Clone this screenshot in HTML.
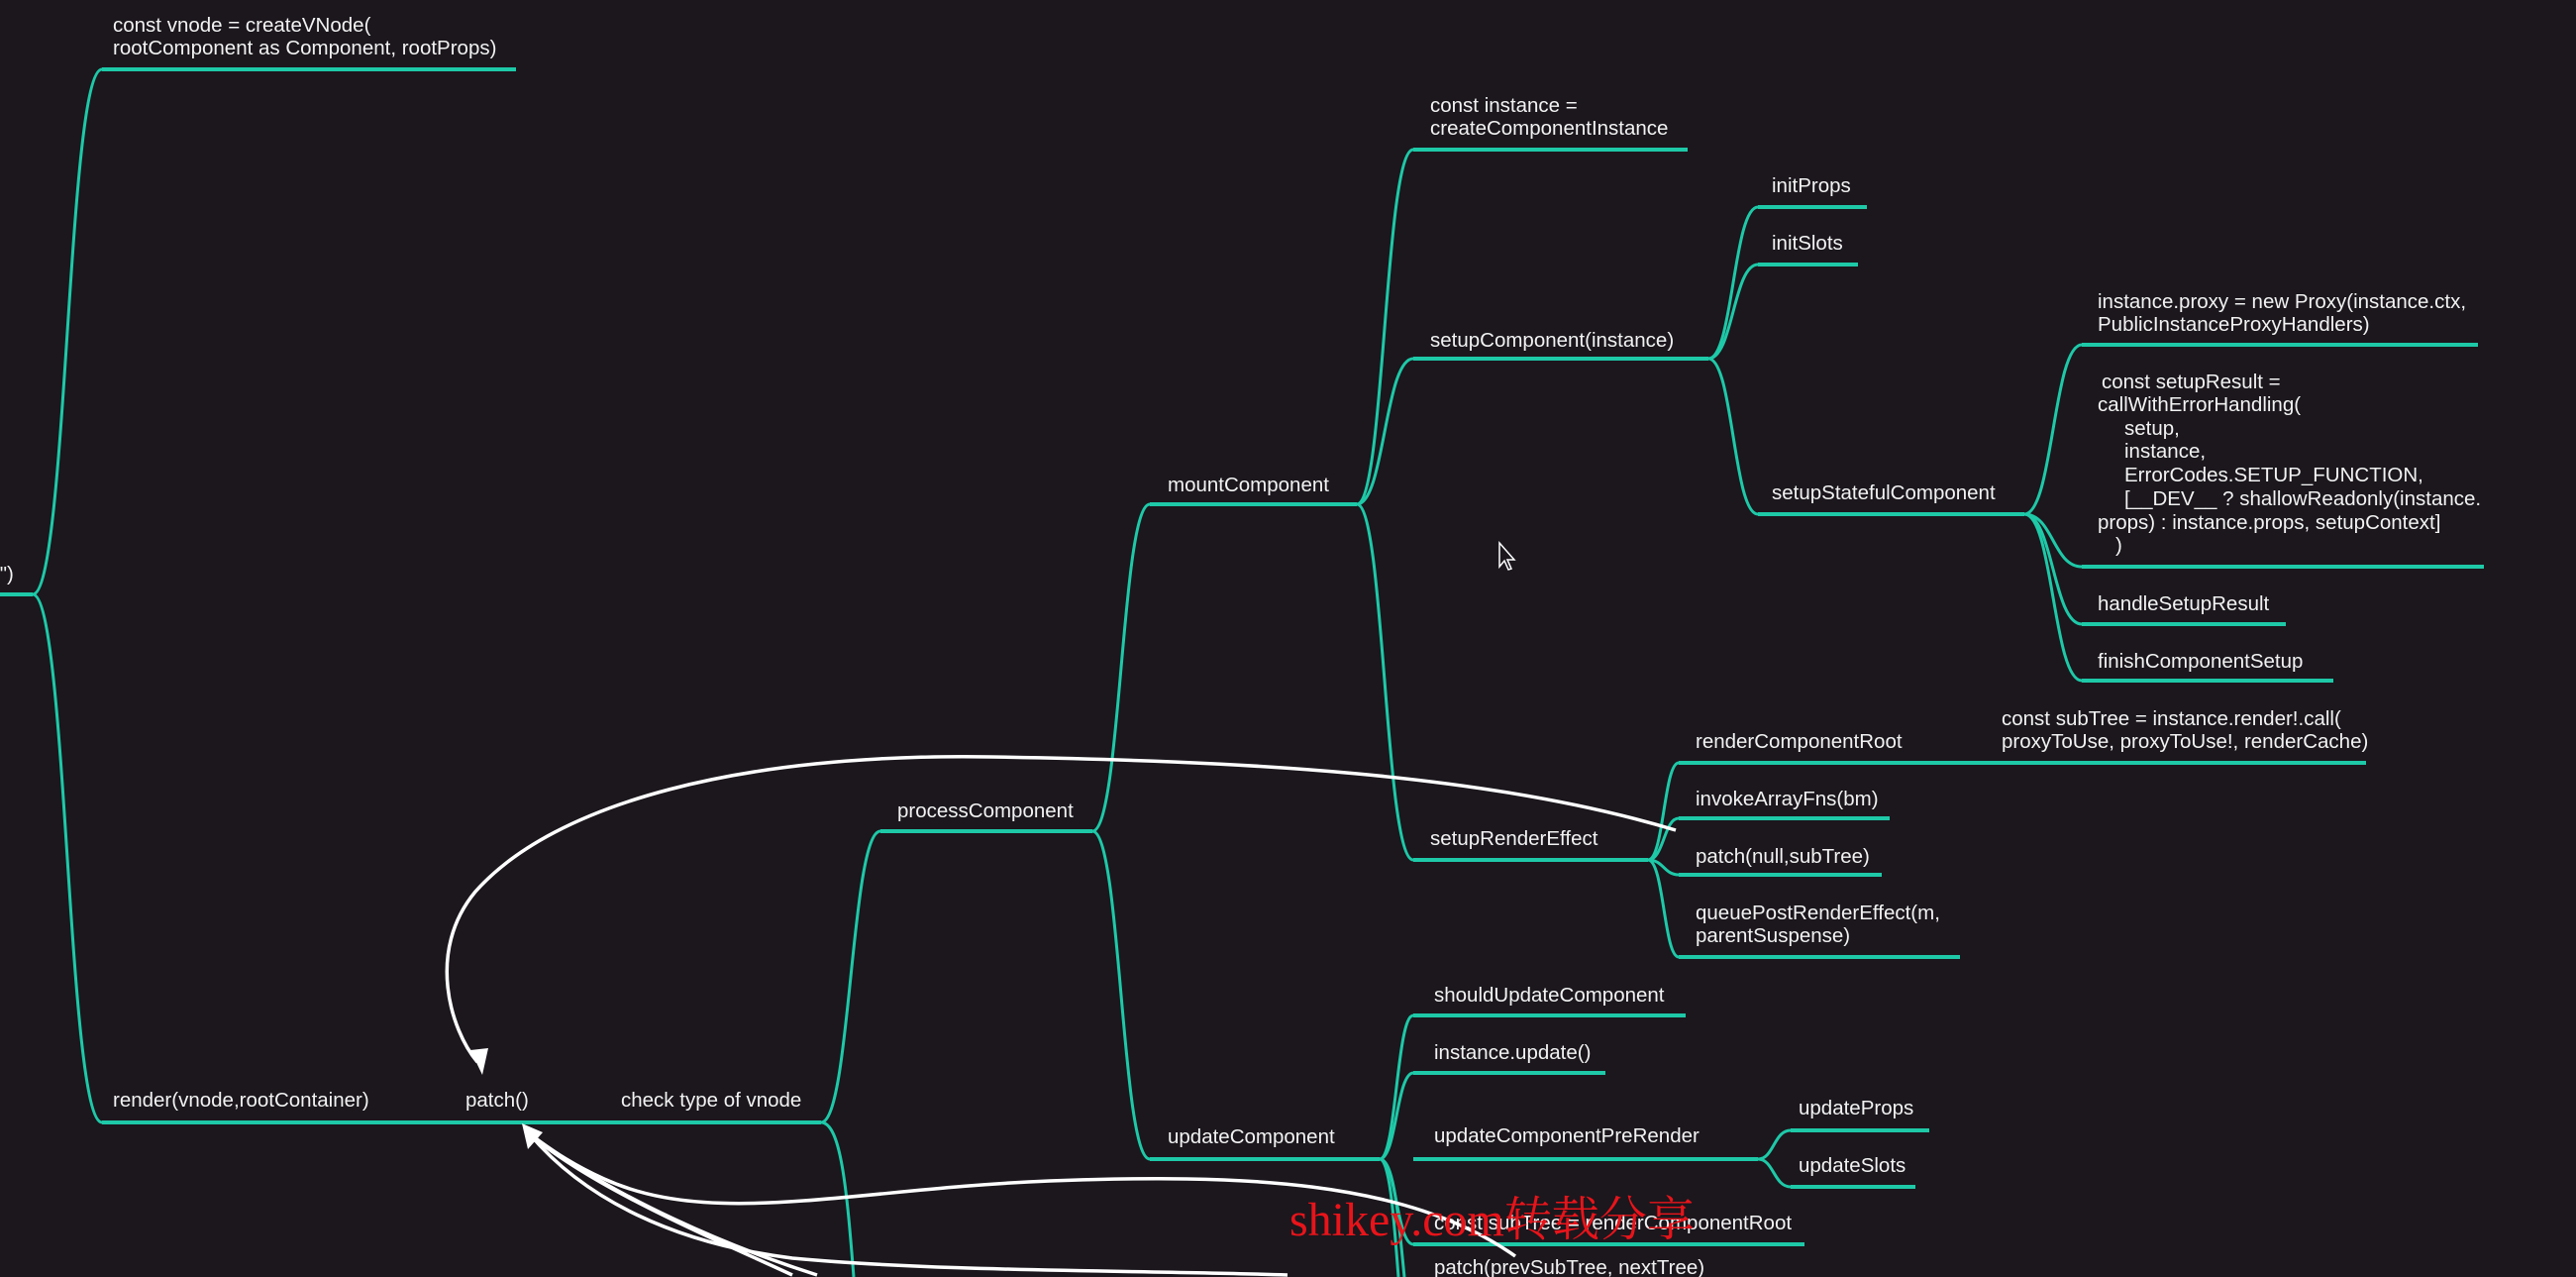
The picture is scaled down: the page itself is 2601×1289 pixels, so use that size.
<!DOCTYPE html>
<html><head><meta charset="utf-8"><style>
html,body{margin:0;padding:0;background:#1b171d;width:2601px;height:1289px;overflow:hidden;}
svg{display:block;overflow:hidden;}
text{font-family:"Liberation Sans",sans-serif;font-size:20.5px;fill:#f2f2f2;}
.l{stroke:#1ec9a8;stroke-width:4;fill:none;}
.c{stroke:#1ec9a8;stroke-width:3;fill:none;}
.w{stroke:#fff;stroke-width:3.5;fill:none;}
</style></head><body>
<svg width="2601" height="1289" viewBox="0 0 2601 1289" xmlns="http://www.w3.org/2000/svg">
<rect width="2601" height="1289" fill="#1b171d"/>
<g class="l">
<line x1="0" y1="600" x2="33" y2="600"/>
<line x1="103" y1="70" x2="521" y2="70"/>
<line x1="103" y1="1133" x2="829" y2="1133"/>
<line x1="889" y1="839" x2="1103" y2="839"/>
<line x1="1161" y1="509" x2="1370" y2="509"/>
<line x1="1161" y1="1170" x2="1393" y2="1170"/>
<line x1="1427" y1="151" x2="1704" y2="151"/>
<line x1="1427" y1="362" x2="1725" y2="362"/>
<line x1="1775" y1="209" x2="1885" y2="209"/>
<line x1="1775" y1="267" x2="1876" y2="267"/>
<line x1="1775" y1="519" x2="2044" y2="519"/>
<line x1="2102" y1="348" x2="2502" y2="348"/>
<line x1="2102" y1="572" x2="2508" y2="572"/>
<line x1="2102" y1="630" x2="2308" y2="630"/>
<line x1="2102" y1="687" x2="2356" y2="687"/>
<line x1="1427" y1="868" x2="1664" y2="868"/>
<line x1="1695" y1="770" x2="2389" y2="770"/>
<line x1="1695" y1="826" x2="1908" y2="826"/>
<line x1="1695" y1="883" x2="1900" y2="883"/>
<line x1="1695" y1="966" x2="1979" y2="966"/>
<line x1="1427" y1="1025" x2="1702" y2="1025"/>
<line x1="1427" y1="1083" x2="1621" y2="1083"/>
<line x1="1427" y1="1170" x2="1775" y2="1170"/>
<line x1="1808" y1="1141" x2="1948" y2="1141"/>
<line x1="1808" y1="1198" x2="1934" y2="1198"/>
<line x1="1427" y1="1256" x2="1822" y2="1256"/>
</g>
<g class="c">
<path d="M33 600 C68 600 68 70 103 70"/>
<path d="M33 600 C68 600 68 1133 103 1133"/>
<path d="M829 1133 C849 1133 855 1200 862 1289"/>
<path d="M829 1133 C859 1133 859 839 889 839"/>
<path d="M1103 839 C1132 839 1132 509 1161 509"/>
<path d="M1103 839 C1132 839 1132 1170 1161 1170"/>
<path d="M1370 509 C1398 509 1398 151 1427 151"/>
<path d="M1370 509 C1398 509 1398 362 1427 362"/>
<path d="M1370 509 C1398 509 1398 868 1427 868"/>
<path d="M1725 362 C1750 362 1750 209 1775 209"/>
<path d="M1725 362 C1750 362 1750 267 1775 267"/>
<path d="M1725 362 C1750 362 1750 519 1775 519"/>
<path d="M2044 519 C2073 519 2073 348 2102 348"/>
<path d="M2044 519 C2073 519 2073 572 2102 572"/>
<path d="M2044 519 C2073 519 2073 630 2102 630"/>
<path d="M2044 519 C2073 519 2073 687 2102 687"/>
<path d="M1664 868 C1680 868 1680 770 1695 770"/>
<path d="M1664 868 C1680 868 1680 826 1695 826"/>
<path d="M1664 868 C1680 868 1680 883 1695 883"/>
<path d="M1664 868 C1680 868 1680 966 1695 966"/>
<path d="M1393 1170 C1410 1170 1410 1025 1427 1025"/>
<path d="M1393 1170 C1410 1170 1410 1083 1427 1083"/>
<path d="M1393 1170 C1410 1170 1410 1256 1427 1256"/>
<path d="M1393 1170 C1408 1170 1412 1230 1418 1289"/>
<path d="M1393 1170 C1404 1170 1408 1240 1412 1289"/>
<path d="M1775 1170 C1791 1170 1791 1141 1808 1141"/>
<path d="M1775 1170 C1791 1170 1791 1198 1808 1198"/>
</g>
<text x="114" y="32">const vnode = createVNode(</text>
<text x="114" y="55">rootComponent as Component, rootProps)</text>
<text x="-6" y="586">t")</text>
<text x="114" y="1117">render(vnode,rootContainer)</text>
<text x="470" y="1117">patch()</text>
<text x="627" y="1117">check type of vnode</text>
<text x="906" y="825">processComponent</text>
<text x="1179" y="496">mountComponent</text>
<text x="1179" y="1154">updateComponent</text>
<text x="1444" y="113">const instance =</text>
<text x="1444" y="136">createComponentInstance</text>
<text x="1444" y="350">setupComponent(instance)</text>
<text x="1789" y="194">initProps</text>
<text x="1789" y="252">initSlots</text>
<text x="1789" y="504">setupStatefulComponent</text>
<text x="2118" y="311">instance.proxy = new Proxy(instance.ctx,</text>
<text x="2118" y="334">PublicInstanceProxyHandlers)</text>
<text x="2122" y="392">const setupResult =</text>
<text x="2118" y="415">callWithErrorHandling(</text>
<text x="2145" y="439">setup,</text>
<text x="2145" y="462">instance,</text>
<text x="2145" y="486">ErrorCodes.SETUP_FUNCTION,</text>
<text x="2145" y="510">[__DEV__ ? shallowReadonly(instance.</text>
<text x="2118" y="534">props) : instance.props, setupContext]</text>
<text x="2136" y="557">)</text>
<text x="2118" y="616">handleSetupResult</text>
<text x="2118" y="674">finishComponentSetup</text>
<text x="1444" y="853">setupRenderEffect</text>
<text x="1712" y="755">renderComponentRoot</text>
<text x="2021" y="732">const subTree = instance.render!.call(</text>
<text x="2021" y="755">proxyToUse, proxyToUse!, renderCache)</text>
<text x="1712" y="813">invokeArrayFns(bm)</text>
<text x="1712" y="871">patch(null,subTree)</text>
<text x="1712" y="928">queuePostRenderEffect(m,</text>
<text x="1712" y="951">parentSuspense)</text>
<text x="1448" y="1011">shouldUpdateComponent</text>
<text x="1448" y="1069">instance.update()</text>
<text x="1448" y="1153">updateComponentPreRender</text>
<text x="1816" y="1125">updateProps</text>
<text x="1816" y="1183">updateSlots</text>
<text x="1448" y="1241">const subTree = renderComponentRoot</text>
<text x="1448" y="1286">patch(prevSubTree, nextTree)</text>
<g class="w">
<path d="M1692 838 C1500 780 1250 768 1000 764 C750 760 560 810 480 900 C430 960 455 1040 482 1072"/>
<path d="M1530 1268 C1420 1190 1250 1185 1060 1192 C860 1200 720 1240 610 1190 C570 1172 550 1155 535 1145"/>
<path d="M800 1287 C720 1250 600 1200 535 1145"/>
<path d="M825 1287 C740 1260 620 1210 535 1145"/>
<path d="M1300 1287 C1150 1282 950 1284 800 1270 C680 1255 590 1210 535 1145"/>
</g>
<polygon points="475,1060 493,1058 487,1085" fill="#fff"/>
<polygon points="527,1134 548,1143 533,1160" fill="#fff"/>
<path d="M1514 548 L1514 572 L1519 566 L1523 575 L1526 574 L1522 565 L1529 565 Z" fill="#1b171d" stroke="#fff" stroke-width="1.5"/>
<text x="1302" y="1247" style="font-family:'Liberation Serif','Noto Serif CJK SC',serif;font-size:48px;fill:#e8141a;">shikey.com转载分享</text>
</svg>
</body></html>
